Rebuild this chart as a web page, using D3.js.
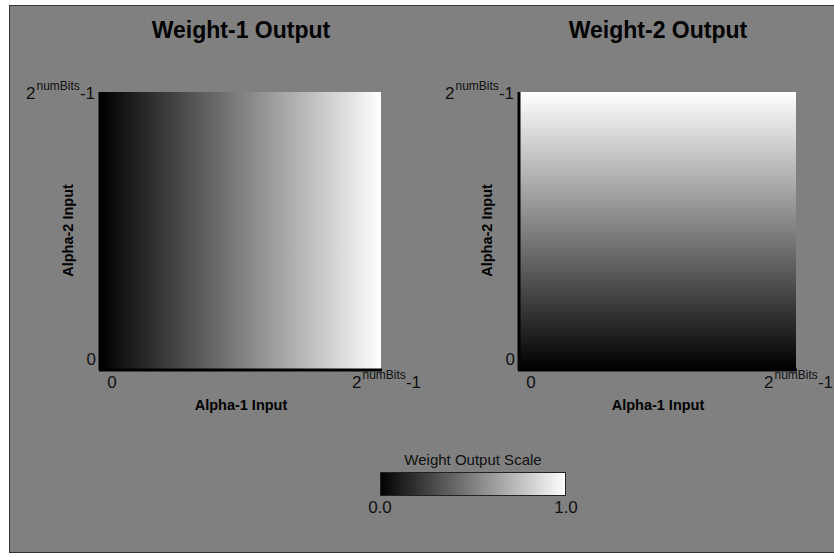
<!DOCTYPE html>
<html>
<head>
<meta charset="utf-8">
<script src="https://cdn.jsdelivr.net/npm/d3@7"></script>
<style>
  html, body { margin: 0; padding: 0; background: #ffffff; }
  svg { display: block; font-family: "Liberation Sans", Arial, sans-serif; }
</style>
</head>
<body>
<svg id="chart" width="834" height="557"></svg>
<script>
// Panel titles and axis titles
const panelTitles = ["Weight-1 Output", "Weight-2 Output"];
const xAxisTitle = "Alpha-1 Input";
const yAxisTitle = "Alpha-2 Input";
// Which input drives each panel's weight: alpha-1 (x) or alpha-2 (y)
const panelDrivers = ["x", "y"];
// Normalised input code range: 0 .. 2^numBits-1
const codeDomain = [0, 1];
// Weight output values along the driving input (linear ramp end points and mid stops)
const weightStops = [0.0, 0.25, 0.5, 0.75, 1.0];
// Colour scale ends
const scaleTicks = ["0.0", "1.0"];
const scaleTitle = "Weight Output Scale";

const svg = d3.select("#chart");
const defs = svg.append("defs");

// background frame
svg.append("rect")
  .attr("x", 9.5).attr("y", 5.5)
  .attr("width", 840).attr("height", 547)
  .attr("fill", "#808080")
  .attr("stroke", "#333333").attr("stroke-width", 1);

const grey = d3.scaleLinear().domain([0, 1]).range(["#000000", "#ffffff"]);

const panels = [
  { left: 101, right: 381, top: 92, bottom: 369, xEndShift: 40 },
  { left: 520, right: 796, top: 92, bottom: 369, xEndShift: 37 }
];

function codeLabel(g, x, y, anchor) {
  const t = g.append("text")
    .attr("x", x).attr("y", y)
    .attr("text-anchor", anchor)
    .attr("font-size", 17).attr("fill", "#111");
  t.append("tspan").text("2");
  t.append("tspan").attr("font-size", 12).attr("dy", -9).attr("dx", 1).text("numBits");
  t.append("tspan").attr("dy", 9).text("-1");
  return t;
}

panels.forEach((p, i) => {
  const x = d3.scaleLinear().domain(codeDomain).range([p.left, p.right]);
  const y = d3.scaleLinear().domain(codeDomain).range([p.bottom, p.top]);
  const g = svg.append("g");

  // gradient along the driving input
  const gid = "ramp" + i;
  const grad = defs.append("linearGradient").attr("id", gid)
    .attr("gradientUnits", "userSpaceOnUse");
  if (panelDrivers[i] === "x") {
    grad.attr("x1", x(0)).attr("x2", x(1)).attr("y1", 0).attr("y2", 0);
  } else {
    grad.attr("x1", 0).attr("x2", 0).attr("y1", y(0)).attr("y2", y(1));
  }
  grad.selectAll("stop").data(weightStops).join("stop")
    .attr("offset", d => d)
    .attr("stop-color", d => grey(d));

  g.append("rect")
    .attr("x", x(0)).attr("y", y(1))
    .attr("width", x(1) - x(0)).attr("height", y(0) - y(1))
    .attr("fill", `url(#${gid})`);

  // axis lines
  g.append("line")
    .attr("x1", x(0) - 1).attr("x2", x(0) - 1)
    .attr("y1", y(1)).attr("y2", y(0) + 1)
    .attr("stroke", "#000").attr("stroke-width", 3);
  g.append("line")
    .attr("x1", x(0) - 2).attr("x2", x(1) + 1)
    .attr("y1", y(0) + 1).attr("y2", y(0) + 1)
    .attr("stroke", "#000").attr("stroke-width", 3);

  // tick labels
  g.append("text")
    .attr("x", x(0) - 5).attr("y", y(0) - 4)
    .attr("text-anchor", "end").attr("font-size", 17).attr("fill", "#111")
    .text("0");
  codeLabel(g, x(0) - 6, y(1) + 7, "end");
  g.append("text")
    .attr("x", x(0) + 11).attr("y", y(0) + 19)
    .attr("text-anchor", "middle").attr("font-size", 17).attr("fill", "#111")
    .text("0");
  codeLabel(g, x(1) + p.xEndShift, y(0) + 19, "end");

  // titles
  g.append("text")
    .attr("x", (p.left + p.right) / 2).attr("y", 38)
    .attr("text-anchor", "middle").attr("font-size", 23)
    .attr("font-weight", "bold").attr("fill", "#000")
    .text(panelTitles[i]);
  g.append("text")
    .attr("x", (p.left + p.right) / 2).attr("y", 410)
    .attr("text-anchor", "middle").attr("font-size", 14.5)
    .attr("font-weight", "bold").attr("fill", "#000")
    .text(xAxisTitle);
  g.append("text")
    .attr("transform", `translate(${p.left - 28},${(p.top + p.bottom) / 2}) rotate(-90)`)
    .attr("text-anchor", "middle").attr("font-size", 14.5)
    .attr("font-weight", "bold").attr("fill", "#000")
    .text(yAxisTitle);
});

// colour scale bar
const cb = { left: 380, right: 566, top: 472, bottom: 496 };
const cx = d3.scaleLinear().domain([0, 1]).range([cb.left, cb.right]);
const cgrad = defs.append("linearGradient").attr("id", "scaleRamp")
  .attr("gradientUnits", "userSpaceOnUse")
  .attr("x1", cx(0)).attr("x2", cx(1)).attr("y1", 0).attr("y2", 0);
cgrad.selectAll("stop").data(weightStops).join("stop")
  .attr("offset", d => d).attr("stop-color", d => grey(d));
svg.append("rect")
  .attr("x", cx(0) + 0.5).attr("y", cb.top + 0.5)
  .attr("width", cx(1) - cx(0) - 1).attr("height", cb.bottom - cb.top - 1)
  .attr("fill", "url(#scaleRamp)")
  .attr("stroke", "#222").attr("stroke-width", 1);
svg.append("text")
  .attr("x", (cb.left + cb.right) / 2).attr("y", 465)
  .attr("text-anchor", "middle").attr("font-size", 15).attr("fill", "#111")
  .text(scaleTitle);
svg.selectAll("text.cbtick").data(scaleTicks).join("text")
  .attr("class", "cbtick")
  .attr("x", (d, i) => cx(i)).attr("y", 513)
  .attr("text-anchor", "middle").attr("font-size", 17).attr("fill", "#111")
  .text(d => d);
</script>
</body>
</html>
